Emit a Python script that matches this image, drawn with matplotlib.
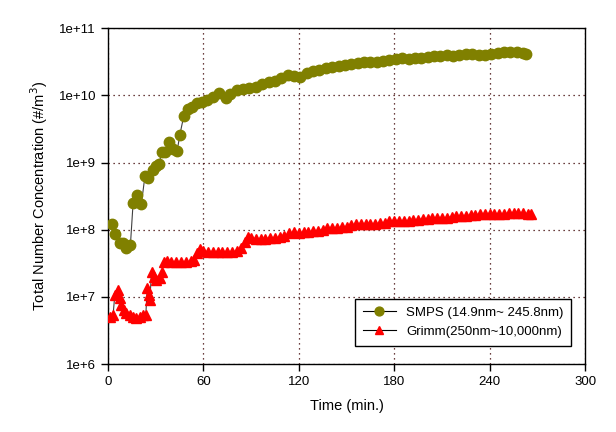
import matplotlib
matplotlib.use('Agg')
import matplotlib.pyplot as plt
from matplotlib.ticker import FuncFormatter, NullLocator, FixedLocator
import numpy as np

plt.rcParams['font.family'] = ['Liberation Sans', 'DejaVu Sans']

# SMPS (14.9nm~245.8nm), time in min, concentration in #/m3
smps_t = [2.7, 4.8, 7.5, 9.6, 11.7, 14.2, 15.9, 18.4, 21.1, 23.3, 25.4, 28.5, 30.6,
          32.3, 33.8, 36.2, 38.6, 41.1, 43.6, 45.3, 47.8, 50.1, 52.6, 55.8, 58.9,
          62.1, 66, 70, 74, 77, 81, 85, 89, 93, 97, 101, 105, 109, 113, 117, 121,
          125, 129, 133, 137, 141, 145, 149, 153, 157, 161, 165, 169, 173, 177,
          181, 185, 189, 193, 197, 201, 205, 209, 213, 217, 221, 225, 229, 233,
          237, 241, 245, 249, 253, 257, 261, 263]
smps_c = [1.2e8, 8.7e7, 6.3e7, 6.3e7, 5.3e7, 5.9e7, 2.5e8, 3.3e8, 2.4e8, 6.2e8, 5.8e8,
          7.8e8, 8.9e8, 9.6e8, 1.45e9, 1.45e9, 2.0e9, 1.6e9, 1.5e9, 2.6e9, 5.0e9,
          6.2e9, 6.8e9, 7.6e9, 8.0e9, 8.5e9, 9.5e9, 1.07e10, 9.1e9, 1.05e10, 1.2e10,
          1.26e10, 1.29e10, 1.35e10, 1.48e10, 1.58e10, 1.66e10, 1.82e10, 2.0e10,
          1.95e10, 1.9e10, 2.14e10, 2.29e10, 2.4e10, 2.51e10, 2.63e10, 2.75e10,
          2.82e10, 2.95e10, 3.02e10, 3.16e10, 3.16e10, 3.09e10, 3.24e10, 3.39e10,
          3.47e10, 3.55e10, 3.47e10, 3.55e10, 3.63e10, 3.72e10, 3.8e10, 3.89e10,
          3.98e10, 3.89e10, 3.98e10, 4.07e10, 4.07e10, 3.98e10, 3.98e10, 4.07e10,
          4.27e10, 4.37e10, 4.47e10, 4.37e10, 4.27e10, 4.17e10]

# Grimm (250nm~10,000nm)
grimm_t = [1.3, 3.3, 4.4, 6.5, 7.5, 8.6, 10, 11.7, 13.8, 15.9, 18, 20.1, 22.2, 23.9,
           24.7, 25.8, 26.4, 27.5, 28.9, 30.6, 32.7, 33.8, 35.2, 37, 40, 43, 46, 49,
           52, 54, 56, 58, 60, 63, 66, 69, 72, 75, 78, 81, 84, 86, 88, 90, 93, 96,
           99, 102, 105, 108, 111, 114, 117, 120, 123, 126, 129, 132, 135, 138, 141,
           144, 147, 150, 153, 156, 159, 162, 165, 168, 171, 174, 177, 180, 183, 186,
           189, 192, 195, 198, 201, 204, 207, 210, 213, 216, 219, 222, 225, 228, 231,
           234, 237, 240, 243, 246, 249, 252, 255, 258, 261, 264, 266]
grimm_c = [5.0e6, 5.3e6, 1.07e7, 1.26e7, 9.5e6, 7.6e6, 6.3e6, 5.7e6, 5.4e6, 5.0e6,
           4.9e6, 5.0e6, 5.3e6, 5.3e6, 1.35e7, 1.07e7, 9.0e6, 2.35e7, 2.0e7, 1.8e7,
           1.9e7, 2.35e7, 3.3e7, 3.4e7, 3.3e7, 3.3e7, 3.3e7, 3.3e7, 3.4e7, 3.5e7,
           4.5e7, 5.2e7, 4.8e7, 4.7e7, 4.6e7, 4.6e7, 4.6e7, 4.7e7, 4.7e7, 4.8e7,
           5.3e7, 6.5e7, 7.8e7, 7.6e7, 7.4e7, 7.3e7, 7.4e7, 7.5e7, 7.6e7, 7.7e7,
           8.0e7, 8.8e7, 9.2e7, 9.0e7, 9.2e7, 9.3e7, 9.5e7, 9.7e7, 1.0e8, 1.05e8,
           1.06e8, 1.07e8, 1.08e8, 1.09e8, 1.18e8, 1.22e8, 1.22e8, 1.22e8, 1.23e8,
           1.23e8, 1.24e8, 1.28e8, 1.35e8, 1.33e8, 1.33e8, 1.35e8, 1.37e8, 1.38e8,
           1.42e8, 1.44e8, 1.46e8, 1.48e8, 1.49e8, 1.5e8, 1.52e8, 1.55e8, 1.58e8,
           1.6e8, 1.62e8, 1.64e8, 1.66e8, 1.7e8, 1.71e8, 1.72e8, 1.72e8, 1.73e8,
           1.74e8, 1.75e8, 1.75e8, 1.75e8, 1.75e8, 1.74e8, 1.72e8]

x_ticks = [0, 60, 120, 180, 240, 300]
y_ticks = [1e6, 1e7, 1e8, 1e9, 1e10, 1e11]

fig = plt.figure(figsize=(6.16, 4.32), dpi=100)
ax = fig.add_axes([0.175, 0.157, 0.775, 0.778])

ax.plot(smps_t, smps_c, color='#404040', lw=0.8, marker='o', ms=7.5,
        mfc='#808000', mec='#808000', label='SMPS (14.9nm~ 245.8nm)', zorder=3)
ax.plot(grimm_t, grimm_c, color='#404040', lw=0.8, marker='^', ms=7,
        mfc='#ff0000', mec='#ff0000', label='Grimm(250nm~10,000nm)', zorder=3)

ax.set_yscale('log')
ax.set_xlim(0, 300)
ax.set_ylim(1e6, 1e11)
ax.xaxis.set_major_locator(FixedLocator(x_ticks))
ax.yaxis.set_major_locator(FixedLocator(y_ticks))
ax.yaxis.set_minor_locator(NullLocator())
ax.yaxis.set_major_formatter(FuncFormatter(lambda v, _: f'1e+{int(round(np.log10(v)))}'))
ax.tick_params(direction='out', length=5, width=1, labelsize=9.5, colors='black')

ax.grid(True, which='major', linestyle=(0, (1, 3)), color='#3a0000', lw=0.9)
for s in ax.spines.values():
    s.set_linewidth(1.0)

ax.set_xlabel('Time (min.)', fontsize=10.5, labelpad=8)
ax.set_ylabel('Total Number Concentration (#/m$^3$)', fontsize=10.5, labelpad=6)

leg = ax.legend(loc='lower right', fontsize=9.5, fancybox=False, framealpha=1,
                edgecolor='black', borderpad=0.6, handlelength=2.5, markerscale=0.85,
                bbox_to_anchor=(0.985, 0.035))
leg.get_frame().set_linewidth(1.0)
for h in leg.legend_handles:
    h.set_color('black')

fig.savefig('out.png', dpi=100)
